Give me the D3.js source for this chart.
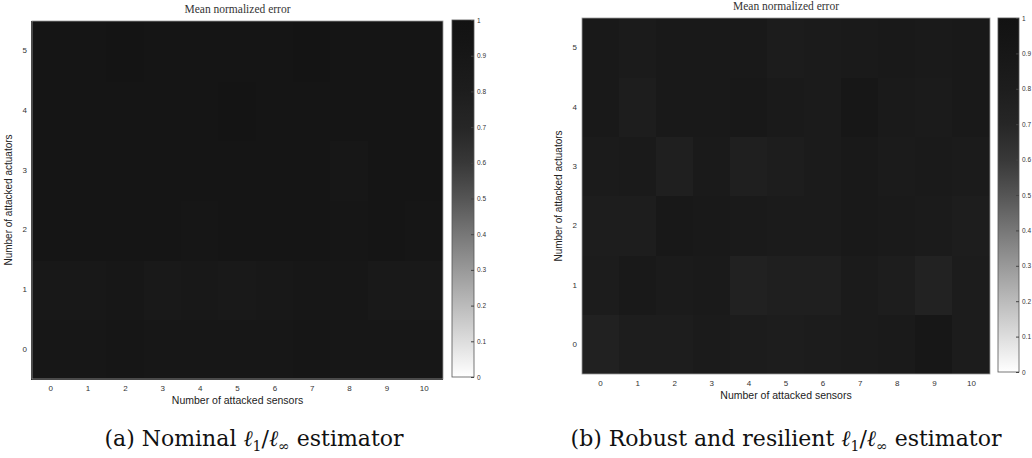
<!DOCTYPE html>
<html>
<head>
<meta charset="utf-8">
<script src="https://cdn.jsdelivr.net/npm/d3@7"></script>
<style>
  body { margin: 0; background: #fff; }
  svg { display: block; }
</style>
</head>
<body>
<svg id="chart" width="1032" height="458"></svg>
<script>
// attacked sensors (columns) and attacked actuators (rows)
var sensors = [0, 1, 2, 3, 4, 5, 6, 7, 8, 9, 10];
var actuators = [0, 1, 2, 3, 4, 5];
var cbTicks = [0, 0.1, 0.2, 0.3, 0.4, 0.5, 0.6, 0.7, 0.8, 0.9, 1];

// mean normalized error, one array per actuator row (row 0 first)
var nominal = [
  [0.90, 0.90, 0.92, 0.91, 0.90, 0.91, 0.90, 0.92, 0.90, 0.90, 0.91],
  [0.88, 0.89, 0.91, 0.87, 0.88, 0.87, 0.89, 0.90, 0.91, 0.86, 0.87],
  [0.94, 0.94, 0.94, 0.94, 0.93, 0.94, 0.94, 0.94, 0.93, 0.94, 0.93],
  [0.95, 0.94, 0.95, 0.94, 0.95, 0.95, 0.94, 0.95, 0.90, 0.94, 0.94],
  [0.95, 0.95, 0.95, 0.95, 0.95, 0.96, 0.95, 0.95, 0.95, 0.95, 0.95],
  [0.95, 0.95, 0.96, 0.95, 0.95, 0.95, 0.95, 0.96, 0.95, 0.95, 0.95]
];
var robust = [
  [0.76, 0.80, 0.80, 0.84, 0.82, 0.80, 0.82, 0.84, 0.85, 0.90, 0.82],
  [0.82, 0.86, 0.84, 0.85, 0.76, 0.78, 0.78, 0.84, 0.80, 0.74, 0.82],
  [0.80, 0.80, 0.88, 0.86, 0.85, 0.84, 0.84, 0.86, 0.85, 0.84, 0.80],
  [0.84, 0.85, 0.78, 0.85, 0.78, 0.80, 0.83, 0.86, 0.84, 0.85, 0.84],
  [0.86, 0.80, 0.86, 0.86, 0.88, 0.85, 0.84, 0.90, 0.85, 0.84, 0.86],
  [0.86, 0.84, 0.86, 0.87, 0.86, 0.82, 0.84, 0.85, 0.86, 0.85, 0.86]
];

// grey colormap as it looks in the figure (0 white, 1 black)
var color = d3.scaleLinear()
  .domain(cbTicks)
  .range(["#ffffff", "#dddddd", "#bbbbbb", "#999999", "#777777", "#555555",
          "#383838", "#262626", "#1d1d1d", "#171717", "#121212"]);

var svg = d3.select("#chart");

var defs = svg.append("defs");
var grad = defs.append("linearGradient")
  .attr("id", "cbgrad")
  .attr("x1", 0).attr("y1", 1).attr("x2", 0).attr("y2", 0);
d3.range(0, 1.0001, 0.05).forEach(function (t) {
  grad.append("stop").attr("offset", t).attr("stop-color", color(t));
});

var panels = [
  { data: nominal, left: 32, right: 443, top: 21, bottom: 379,
    cbx: 452, cbw: 22, cbtop: 20, cbbottom: 377, capx: 254,
    caption: ["(a) Nominal ", "/", " estimator"] },
  { data: robust, left: 582, right: 990, top: 18, bottom: 374,
    cbx: 998, cbw: 21, cbtop: 18, cbbottom: 372, capx: 786,
    caption: ["(b) Robust and resilient ", "/", " estimator"] }
];

var sans = "Liberation Sans, Arial, sans-serif";

panels.forEach(drawPanel);

function drawPanel(p) {
  var g = svg.append("g");

  var x = d3.scaleBand().domain(sensors).range([p.left, p.right]);
  var y = d3.scaleBand().domain(actuators).range([p.bottom, p.top]);

  var cells = [];
  p.data.forEach(function (row, i) {
    row.forEach(function (v, j) {
      cells.push({ s: sensors[j], a: actuators[i], v: v });
    });
  });

  g.selectAll("rect.cell")
    .data(cells)
    .enter().append("rect")
    .attr("class", "cell")
    .attr("shape-rendering", "crispEdges")
    .attr("x", function (d) { return Math.floor(x(d.s)); })
    .attr("y", function (d) { return Math.floor(y(d.a)); })
    .attr("width", x.bandwidth() + 1)
    .attr("height", y.bandwidth() + 1)
    .attr("fill", function (d) { return color(d.v); });

  g.append("rect")
    .attr("x", p.left).attr("y", p.top)
    .attr("width", p.right - p.left).attr("height", p.bottom - p.top)
    .attr("fill", "none").attr("stroke", "#9a9a9a").attr("stroke-width", 0.8);

  // x axis
  var xa = g.append("g")
    .attr("transform", "translate(0," + p.bottom + ")")
    .call(d3.axisBottom(x).tickSize(0).tickPadding(6));
  xa.select(".domain").remove();
  xa.selectAll("text")
    .attr("font-family", sans)
    .attr("font-size", 8).attr("fill", "#333");

  // y axis
  var ya = g.append("g")
    .attr("transform", "translate(" + p.left + ",0)")
    .call(d3.axisLeft(y).tickSize(0).tickPadding(5));
  ya.select(".domain").remove();
  ya.selectAll("text")
    .attr("font-family", sans)
    .attr("font-size", 8).attr("fill", "#333");

  var cx = (p.left + p.right) / 2;

  g.append("text")
    .attr("x", cx).attr("y", p.bottom + 25)
    .attr("text-anchor", "middle")
    .attr("font-family", sans)
    .attr("font-size", 10.5).attr("fill", "#222")
    .text("Number of attacked sensors");

  g.append("text")
    .attr("transform", "translate(" + (p.left - 20) + "," + ((p.top + p.bottom) / 2) + ") rotate(-90)")
    .attr("text-anchor", "middle")
    .attr("font-family", sans)
    .attr("font-size", 10).attr("fill", "#222")
    .text("Number of attacked actuators");

  g.append("text")
    .attr("x", cx).attr("y", p.top - 8)
    .attr("text-anchor", "middle")
    .attr("font-family", "Liberation Serif, serif")
    .attr("font-size", 11.5).attr("fill", "#333")
    .text("Mean normalized error");

  // colorbar
  var cb = d3.scaleLinear().domain([0, 1]).range([p.cbbottom, p.cbtop]);
  g.append("rect")
    .attr("x", p.cbx).attr("y", p.cbtop)
    .attr("width", p.cbw).attr("height", p.cbbottom - p.cbtop)
    .attr("fill", "url(#cbgrad)")
    .attr("stroke", "#555").attr("stroke-width", 0.8);
  var ca = g.append("g")
    .attr("transform", "translate(" + (p.cbx + p.cbw) + ",0)")
    .call(d3.axisRight(cb).tickValues(cbTicks).tickSize(-3).tickPadding(3)
      .tickFormat(d3.format("~g")));
  ca.select(".domain").remove();
  ca.selectAll("line").attr("stroke", "#444");
  ca.selectAll("text")
    .attr("font-family", sans)
    .attr("font-size", 6.5).attr("fill", "#333");

  // caption
  var cap = svg.append("text")
    .attr("x", p.capx).attr("y", 446)
    .attr("text-anchor", "middle")
    .attr("font-family", "DejaVu Serif, serif")
    .attr("font-size", 22).attr("fill", "#111");
  cap.append("tspan").text(p.caption[0]);
  cap.append("tspan").attr("font-style", "italic").text("ℓ");
  cap.append("tspan").attr("font-size", 14).attr("dy", 5).text("1");
  cap.append("tspan").attr("dy", -5).text(p.caption[1]);
  cap.append("tspan").attr("font-style", "italic").text("ℓ");
  cap.append("tspan").attr("font-size", 14).attr("dy", 5).text("∞");
  cap.append("tspan").attr("dy", -5).text(p.caption[2]);
}
</script>
</body>
</html>
